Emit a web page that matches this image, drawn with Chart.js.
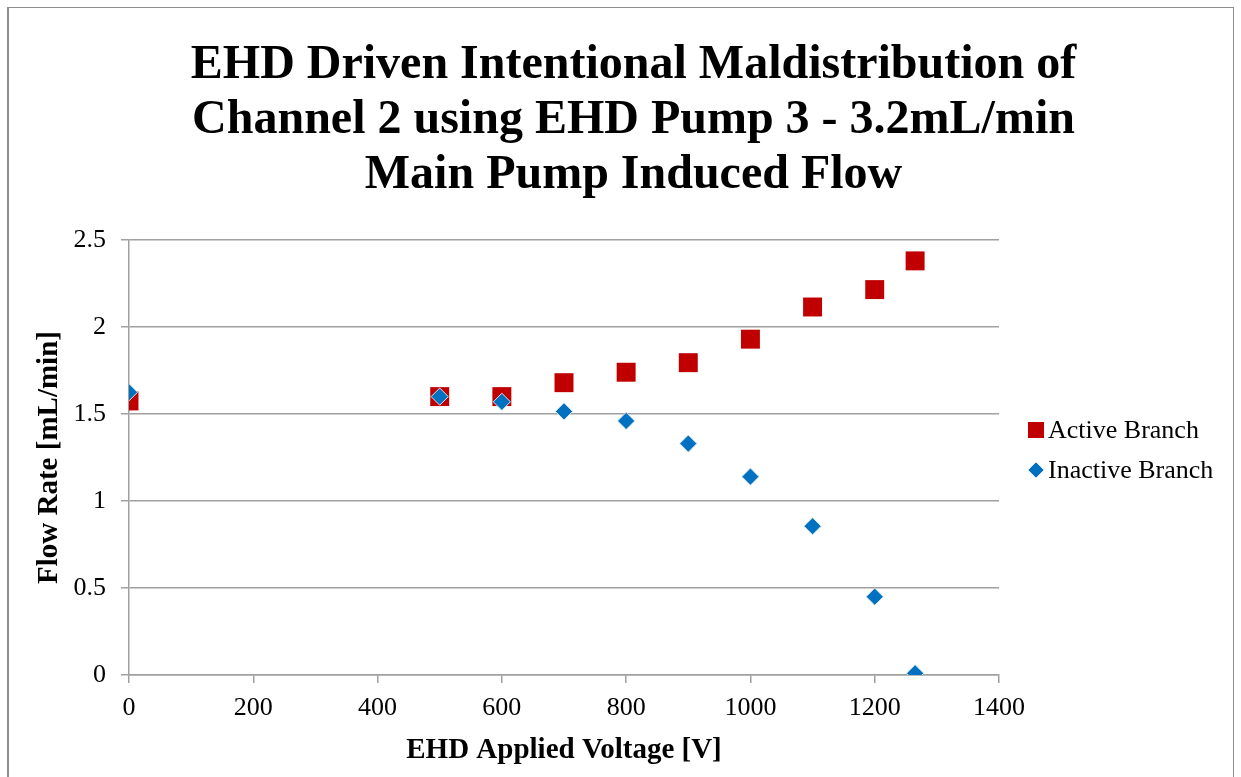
<!DOCTYPE html>
<html lang="en">
<head>
<meta charset="UTF-8">
<title>EHD Driven Intentional Maldistribution - Channel 2</title>
<script src="https://cdn.jsdelivr.net/npm/chart.js@4.4.0/dist/chart.umd.min.js"></script>
<style>
  html, body { margin: 0; padding: 0; background: #fff; }
  .wrap { position: relative; width: 1241px; height: 777px; overflow: hidden; }
  .frame { position: absolute; left: 7px; top: 7px; width: 1224px; height: 800px; border: 1px solid #8e8e8e; border-left-width: 2px; }
  #chart { position: absolute; left: 0; top: 0; }
</style>
</head>
<body>
<div class="wrap">
  <div class="frame"></div>
  <canvas id="chart" width="1241" height="777"></canvas>
</div>
<script>
// data
const voltage = [0, 500, 600, 700, 800, 900, 1000, 1100, 1200, 1265];
const activeFlow = [1.575, 1.60, 1.60, 1.68, 1.74, 1.795, 1.93, 2.115, 2.215, 2.38];
const inactiveFlow = [1.625, 1.60, 1.57, 1.515, 1.46, 1.33, 1.14, 0.855, 0.45, 0.01];
const seriesNames = ['Active Branch', 'Inactive Branch'];
const xTicks = [0, 200, 400, 600, 800, 1000, 1200, 1400];
const yTicks = [0, 0.5, 1, 1.5, 2, 2.5];

const SERIF = '"Liberation Serif", "Times New Roman", serif';
const gridColor = '#a0a0a0';
const red = '#C00000';
const blue = '#0070C0';

function toPoints(xs, ys) {
  return xs.map((x, i) => ({ x: x, y: ys[i] }));
}

// legend drawn to the right of the plot (markers + labels)
const sideLegend = {
  id: 'sideLegend',
  afterDraw(chart) {
    const ctx = chart.ctx;
    const left = chart.chartArea.right + 37;
    const rows = [430, 470];
    ctx.save();
    ctx.font = '26px ' + SERIF;
    ctx.textBaseline = 'middle';
    ctx.textAlign = 'left';
    chart.data.datasets.forEach((ds, i) => {
      const y = rows[i];
      ctx.fillStyle = ds.backgroundColor;
      if (ds.pointStyle === 'rect') {
        ctx.fillRect(left - 8, y - 8, 16, 16);
      } else {
        ctx.beginPath();
        ctx.moveTo(left - 8, y);
        ctx.lineTo(left, y - 8);
        ctx.lineTo(left + 8, y);
        ctx.lineTo(left, y + 8);
        ctx.closePath();
        ctx.fill();
        ctx.strokeStyle = ds.borderColor;
        ctx.lineWidth = 1;
        ctx.stroke();
      }
      ctx.fillStyle = '#000';
      ctx.fillText(ds.label, left + 12, y + 1);
    });
    ctx.restore();
  }
};

new Chart(document.getElementById('chart'), {
  type: 'scatter',
  data: {
    datasets: [
      {
        label: seriesNames[0],
        data: toPoints(voltage, activeFlow),
        pointStyle: 'rect',
        pointRadius: 13.4,
        pointHoverRadius: 13.4,
        backgroundColor: red,
        borderColor: red,
        borderWidth: 0,
        order: 1
      },
      {
        label: seriesNames[1],
        data: toPoints(voltage, inactiveFlow),
        pointStyle: 'rectRot',
        pointRadius: 8.6,
        pointHoverRadius: 8.6,
        backgroundColor: blue,
        borderColor: '#d6e4f1',
        borderWidth: 1,
        order: 0
      }
    ]
  },
  options: {
    responsive: false,
    animation: false,
    layout: { padding: { left: 26, right: 0, top: 0, bottom: 0 } },
    plugins: {
      legend: { display: false },
      tooltip: { enabled: false },
      title: {
        display: true,
        text: ['EHD Driven Intentional Maldistribution of', 'Channel 2 using EHD Pump 3 - 3.2mL/min', 'Main Pump Induced Flow'],
        color: '#000',
        font: { family: SERIF, size: 48, weight: 'bold', lineHeight: '55px' },
        padding: { top: 38.5, bottom: 36.5 }
      }
    },
    scales: {
      x: {
        type: 'linear',
        position: 'bottom',
        min: 0,
        max: 1400,
        afterBuildTicks: s => { s.ticks = xTicks.map(v => ({ value: v })); },
        afterFit: s => { s.height = 102; },
        grid: { display: true, drawOnChartArea: false, drawTicks: true, tickLength: 8, color: gridColor, lineWidth: 1.5 },
        border: { display: true, color: gridColor, width: 1.5 },
        ticks: { padding: 10, color: '#000', font: { family: SERIF, size: 26 }, maxRotation: 0, autoSkip: false, callback: v => String(v) },
        title: {
          display: true,
          text: 'EHD Applied Voltage [V]',
          color: '#000',
          font: { family: SERIF, size: 29, weight: 'bold' },
          padding: { top: 0, bottom: 8.6 }
        }
      },
      y: {
        type: 'linear',
        position: 'left',
        min: 0,
        max: 2.5,
        afterBuildTicks: s => { s.ticks = yTicks.map(v => ({ value: v })); },
        afterFit: s => { s.width = 103; },
        grid: { display: true, drawTicks: true, tickLength: 8, color: gridColor, lineWidth: 1.5 },
        border: { display: true, color: gridColor, width: 1.5 },
        ticks: { padding: 15, color: '#000', font: { family: SERIF, size: 26 }, callback: v => String(v) },
        title: {
          display: true,
          text: 'Flow Rate [mL/min]',
          color: '#000',
          font: { family: SERIF, size: 29, weight: 'bold' },
          padding: { top: 6.6, bottom: 0 }
        }
      },
      // empty right-hand box that reserves the legend column
      legendSpace: {
        type: 'linear',
        position: 'right',
        display: true,
        grid: { display: false },
        border: { display: false },
        ticks: { display: false },
        afterFit: s => { s.width = 242; }
      }
    }
  },
  plugins: [sideLegend]
});
</script>
</body>
</html>
